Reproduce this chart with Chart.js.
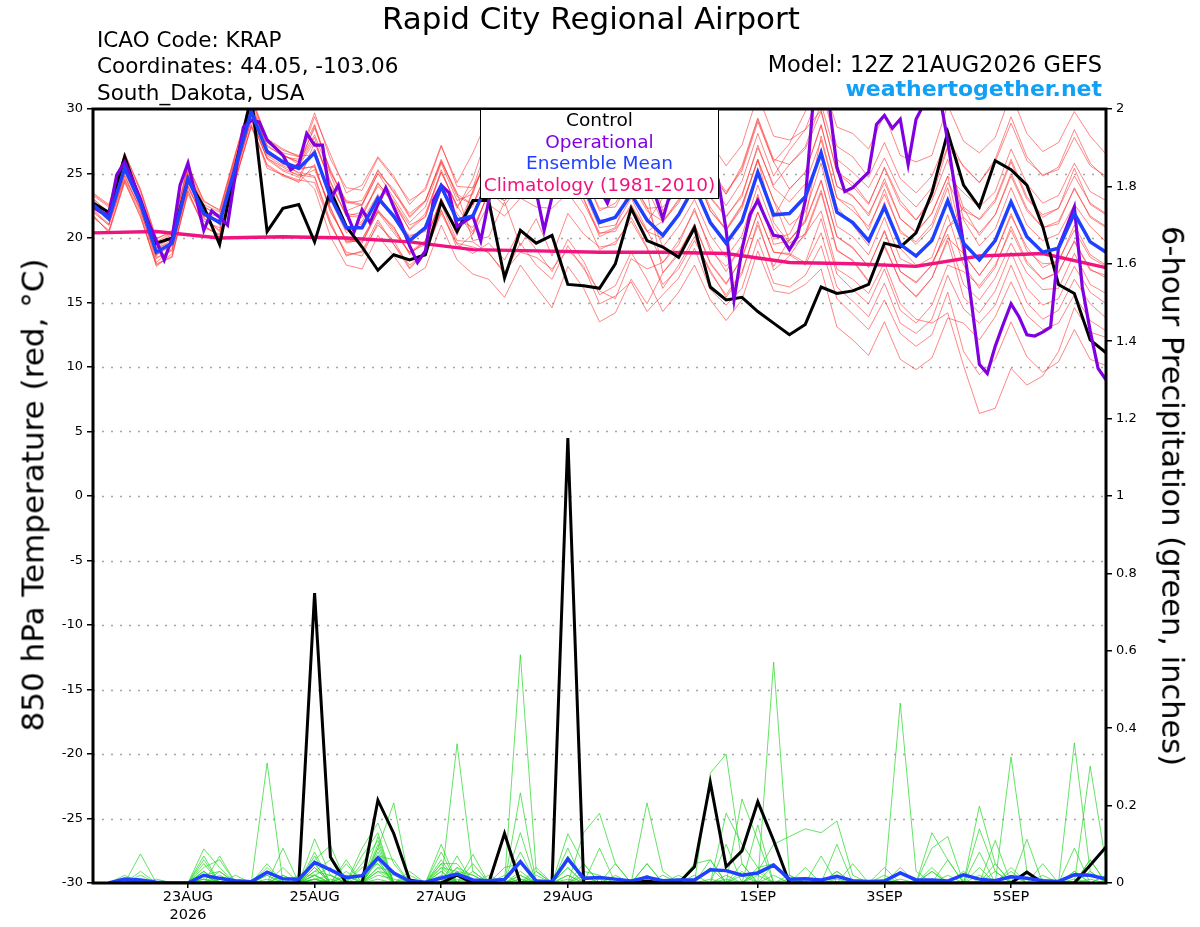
<!DOCTYPE html>
<html>
<head>
<meta charset="utf-8">
<script src="https://cdn.jsdelivr.net/npm/chart.js@4.4.1/dist/chart.umd.min.js"></script>
<style>
html,body{margin:0;padding:0;background:#fff;}
#wrap{position:relative;width:1200px;height:927px;overflow:hidden;font-family:"DejaVu Sans",sans-serif;background:#fff;}
#c{position:absolute;left:0;top:0;}
.t{position:absolute;white-space:nowrap;line-height:1;color:#000;}
#legend{position:absolute;left:480px;top:110px;width:239px;height:89px;box-sizing:border-box;background:#fff;border:1.5px solid #000;border-top:none;font-size:18.5px;line-height:1;}
#legend div{position:absolute;left:0;right:0;text-align:center;white-space:nowrap;}
</style>
</head>
<body>
<div id="wrap">
<canvas id="c" width="1200" height="927"></canvas>
<div class="t" style="left:0;width:1182px;text-align:center;top:3px;font-size:31px;">Rapid City Regional Airport</div>
<div class="t" style="left:97px;top:28.5px;font-size:21.5px;">ICAO Code: KRAP</div>
<div class="t" style="left:97px;top:55px;font-size:21.5px;">Coordinates: 44.05, -103.06</div>
<div class="t" style="left:97px;top:82px;font-size:21.5px;">South_Dakota, USA</div>
<div class="t" style="right:98px;top:52.5px;font-size:22.5px;text-align:right;">Model: 12Z 21AUG2026 GEFS</div>
<div class="t" style="right:98px;top:78px;font-size:22px;font-weight:bold;color:#12a0f5;text-align:right;">weathertogether.net</div>
<div class="t" style="left:33px;top:495px;font-size:31px;transform:translate(-50%,-50%) rotate(-90deg);">850 hPa Temperature (red, °C)</div>
<div class="t" style="left:1172px;top:496px;font-size:30.5px;transform:translate(-50%,-50%) rotate(90deg);">6-hour Precipitation (green, inches)</div>
<div id="legend">
  <div style="top:1.3px;color:#000;">Control</div>
  <div style="top:22.9px;color:#8000e0;">Operational</div>
  <div style="top:44.3px;color:#2040ff;">Ensemble Mean</div>
  <div style="top:66.3px;color:#f0147f;">Climatology (1981-2010)</div>
</div>
</div>
<script>
// ---- x axis (6-hour steps from 12Z 21AUG2026) ----
const X_TICK_STEPS = [6, 14, 22, 30, 42, 50, 58];
const X_TICK_LABELS = [['23AUG', '2026'], '25AUG', '27AUG', '29AUG', '1SEP', '3SEP', '5SEP'];

// ---- 850 hPa temperature (deg C), 6-hourly, steps 0..64 ----
const CONTROL_T = [22.7,22.0,26.3,22.8,19.6,20.0,24.5,22.4,19.5,25.5,31.0,20.5,22.3,22.6,19.7,23.7,20.9,19.3,17.5,18.7,
  18.3,18.7,22.8,20.5,22.9,22.9,16.9,20.6,19.6,20.2,16.4,16.3,16.1,18.0,22.3,19.8,19.3,18.5,20.8,16.2,
  15.2,15.4,14.3,13.4,12.5,13.3,16.2,15.7,15.9,16.4,19.6,19.3,20.4,23.5,28.2,24.1,22.4,26.0,25.3,24.1,
  20.9,16.4,15.7,12.1,11.1];
const MEAN_T = [22.6,21.5,25.4,22.7,18.9,19.6,24.6,21.9,21.2,25.5,29.8,26.7,25.9,25.4,26.6,23.2,20.8,20.8,23.1,21.7,
  19.8,20.8,24.0,21.4,21.7,24.5,23.8,25.0,24.6,24.2,25.4,24.0,21.2,21.6,23.4,21.4,20.2,21.8,24.0,21.2,
  19.6,21.3,25.1,21.8,21.9,23.2,26.6,22.0,21.2,19.8,22.4,19.5,18.6,19.8,22.9,19.6,18.3,19.8,22.8,20.1,
  18.9,19.2,21.9,19.7,18.9];
// operational run, 3-hourly, half-steps 0..128
const OPER_T = [22.4,22.0,21.8,24.9,25.9,24.5,23.0,21.2,19.8,18.3,20.0,24.1,25.8,23.2,20.6,22.1,21.6,21.0,25.0,28.6,
  29.1,29.0,27.6,27.0,26.4,25.3,25.7,28.1,27.2,27.2,23.0,24.1,22.0,20.5,22.2,21.2,22.6,23.9,22.4,21.0,
  19.4,18.1,19.0,22.9,24.1,23.5,20.9,21.3,21.7,19.8,22.9,24.5,25.5,24.8,26.0,25.2,23.6,20.6,23.2,24.6,
  25.8,24.9,26.3,25.4,23.8,22.7,24.3,25.6,26.2,25.0,24.4,23.4,21.5,23.6,24.8,26.5,25.9,27.1,26.0,24.5,
  20.6,15.2,19.1,21.8,22.9,21.5,20.2,20.1,19.1,20.1,22.9,30.6,31.5,30.5,25.5,23.6,23.9,24.5,25.1,28.8,
  29.5,28.5,29.2,25.7,29.2,30.4,31.0,31.0,27.5,23.5,19.5,15.0,10.2,9.5,11.6,13.3,14.9,13.9,12.5,12.4,
  12.7,13.1,19.3,20.8,22.4,16.2,12.8,9.9,9.0];
// climatology, daily, steps 0,4,...,64
const CLIM_T = [20.4,20.5,20.0,20.1,20.0,19.7,19.1,19.0,18.9,18.9,18.8,18.1,18.0,17.8,18.6,18.8,17.7];

// ensemble members, temperature
const T01 = [22.9,21.8,26.0,23.1,19.2,20.1,25.3,22.0,21.6,26.0,30.4,27.5,26.4,25.9,28.0,24.9,22.1,22.6,25.0,23.1,21.2,22.4,25.8,22.9,23.4,27.1,26.9,28.1,27.4,27.0,28.6,26.8,24.1,24.8,26.9,24.2,23.9,25.6,28.3,25.0,23.4,25.6,29.3,26.1,25.7,26.9,29.8,25.1,24.0,22.6,25.5,22.9,21.4,23.2,27.0,25.6,24.3,26.1,29.4,26.3,24.8,25.5,28.4,25.8,24.6];
const T02 = [22.0,21.0,24.6,22.3,18.1,19.2,23.9,21.6,20.5,24.8,29.2,26.1,25.2,24.7,25.3,22.4,19.6,19.9,22.0,20.4,18.9,19.5,22.6,19.8,19.7,18.8,17.4,18.9,18.5,17.6,19.1,17.8,14.9,15.5,16.6,14.3,15.6,16.9,19.2,16.0,14.8,16.1,19.9,16.5,16.2,17.1,19.4,15.3,14.1,12.9,15.2,12.6,11.6,12.5,15.8,11.2,9.4,10.6,13.5,10.8,9.6,10.4,12.9,10.6,10.1];
const T03 = [23.3,22.4,26.3,23.6,19.7,20.4,25.5,22.6,22.0,26.4,30.8,27.6,26.6,26.3,28.8,25.1,22.9,22.6,25.3,23.5,21.9,22.9,26.1,23.2,22.6,24.8,23.5,25.3,24.3,23.8,25.9,23.6,20.8,21.0,23.1,20.6,18.1,19.5,22.3,19.0,17.8,19.2,23.4,19.5,19.8,21.4,27.9,23.1,22.5,20.6,23.8,20.4,19.7,21.1,24.3,22.1,21.5,23.0,26.1,23.2,21.6,22.3,25.4,22.6,21.8];
const T04 = [21.8,20.4,24.3,21.7,17.8,18.8,23.4,21.0,20.1,24.6,28.7,25.4,24.9,24.5,24.3,21.0,18.9,18.6,21.2,19.5,17.9,18.8,22.1,19.6,19.3,18.9,17.2,19.6,17.9,16.8,19.4,17.6,15.9,15.3,18.4,17.6,18.1,19.8,22.1,19.3,17.4,19.5,23.2,19.9,20.3,22.6,26.9,22.4,21.0,19.4,22.8,19.2,17.9,18.1,20.3,16.4,15.2,16.9,19.6,17.3,16.0,16.1,18.8,16.4,15.7];
const T05 = [22.7,21.7,25.9,22.5,19.1,19.9,24.3,22.3,21.0,25.9,30.2,27.2,26.3,26.1,29.4,26.5,23.5,24.1,26.3,24.8,22.6,23.9,27.2,24.0,23.9,26.2,25.7,27.3,26.2,26.4,27.6,25.8,23.3,23.6,25.7,23.1,24.1,25.9,28.4,25.3,23.4,25.4,29.2,25.9,27.3,29.8,32.5,28.6,28.1,26.9,29.6,26.4,25.9,26.4,30.3,27.5,26.6,27.8,31.2,28.1,26.7,27.4,29.8,27.9,26.5];
const T06 = [22.5,21.3,25.2,22.9,18.7,19.4,24.8,21.7,21.4,25.2,29.5,26.4,25.6,25.1,24.8,21.3,18.6,19.0,21.4,19.5,17.6,18.9,22.2,19.2,20.3,23.7,22.5,24.3,23.4,23.0,24.6,22.7,20.3,20.8,24.3,22.1,21.3,23.0,25.1,22.4,20.6,22.5,26.1,21.2,19.6,20.3,22.1,17.6,16.8,15.7,18.1,14.9,13.7,13.4,14.2,10.1,6.4,6.8,9.9,8.6,9.3,11.2,14.6,12.7,12.3];
const T07 = [23.1,21.9,25.8,23.0,19.5,20.3,25.0,22.5,21.5,26.1,30.1,27.4,26.5,25.7,27.8,24.0,21.9,21.7,24.3,22.6,20.7,21.9,25.1,22.5,23.9,27.4,26.6,28.3,27.5,27.4,28.7,26.9,24.3,24.4,26.1,23.9,21.2,22.9,25.2,22.1,20.7,22.6,26.0,22.9,21.0,22.0,25.8,20.9,20.1,18.7,21.6,18.4,17.8,18.5,21.8,17.9,16.1,17.7,20.9,18.2,16.8,17.3,19.8,17.6,16.9];
const T08 = [22.2,21.1,24.8,22.1,18.5,19.0,24.0,21.3,20.8,25.0,29.1,26.2,25.5,24.8,26.9,23.0,20.4,21.3,23.4,21.6,20.2,20.5,23.7,21.9,20.3,22.6,21.7,23.1,22.4,22.3,23.5,21.8,19.1,19.7,21.3,19.2,16.4,17.6,19.8,17.5,15.4,17.2,21.3,17.5,18.6,20.4,23.7,19.1,18.2,16.6,19.3,16.7,15.4,16.9,20.0,18.8,17.1,18.8,21.7,19.3,17.7,18.3,20.6,18.5,17.8];
const T09 = [22.4,21.6,25.6,22.8,18.6,19.8,24.5,21.7,21.3,25.7,29.6,26.9,25.7,25.6,27.5,24.4,21.7,21.6,24.2,22.9,20.6,21.7,25.3,22.3,24.6,28.3,27.9,29.2,28.4,28.1,29.6,27.9,25.3,25.4,27.6,25.6,26.4,27.7,30.2,27.4,25.6,27.2,31.1,27.9,27.6,28.4,29.9,25.1,24.3,22.7,25.4,22.6,21.4,22.9,26.1,22.3,20.2,21.8,25.0,22.3,20.8,21.1,23.9,21.6,20.8];
const T10 = [22.5,21.4,25.1,22.6,19.0,19.5,24.4,22.0,21.1,25.3,29.9,26.5,25.8,25.0,23.8,20.1,17.9,17.6,20.2,18.6,16.9,17.7,21.0,18.3,17.2,16.8,15.4,17.9,16.2,14.6,17.8,16.1,13.5,14.2,16.8,14.9,17.3,18.9,21.0,18.1,16.5,18.4,22.0,18.9,18.7,17.9,20.4,16.2,15.1,13.9,16.5,13.4,12.6,13.7,17.1,14.5,13.4,14.8,17.9,15.0,13.7,14.4,16.8,14.9,13.8];
const T11 = [23.5,22.6,26.5,23.8,20.0,20.4,25.7,22.8,22.2,26.6,30.7,27.6,26.8,26.4,26.4,23.5,20.6,21.1,23.0,21.5,20.1,20.6,24.2,21.2,22.5,25.6,24.7,26.1,25.5,25.3,26.4,24.8,22.3,22.4,24.6,22.3,22.4,23.6,26.3,23.1,21.6,23.4,27.0,24.1,25.7,27.1,30.4,26.1,25.1,23.9,26.2,23.6,22.4,23.9,27.1,21.4,19.4,20.7,23.9,21.0,19.8,20.3,22.6,20.9,19.7];
const T12 = [21.6,20.6,24.5,21.9,17.9,18.6,23.6,20.8,20.3,24.4,28.8,25.6,24.8,24.4,27.4,24.3,21.7,22.0,24.0,22.8,21.0,21.6,25.1,22.5,20.5,23.6,22.9,23.9,23.5,23.4,24.2,23.0,20.4,20.5,22.6,20.5,20.0,21.9,24.3,21.1,19.4,21.1,25.3,21.6,23.8,25.1,28.8,24.0,23.3,21.7,24.6,21.5,20.4,21.9,24.8,23.5,22.4,23.6,26.9,24.2,22.7,23.3,25.8,23.6,22.9];
const T13 = [22.8,21.5,25.3,22.4,19.2,19.7,24.9,21.8,21.3,25.4,29.7,26.8,26.0,25.3,25.6,22.0,19.9,19.6,22.1,20.9,18.7,19.8,23.1,20.2,23.6,26.4,25.9,27.1,26.5,26.0,27.5,25.9,23.4,23.5,25.3,23.6,17.3,18.7,21.1,18.0,16.4,18.5,22.0,18.9,18.8,18.1,21.5,17.2,16.0,14.9,17.6,14.4,13.4,14.8,17.9,17.4,16.3,17.9,20.6,18.0,16.8,17.4,19.7,17.5,17.1];
const T14 = [23.0,22.0,25.9,23.3,19.4,20.0,25.2,22.4,21.8,26.2,30.3,27.1,26.4,25.9,28.5,25.3,22.7,22.9,25.2,23.6,21.6,22.8,26.0,23.5,19.8,20.1,22.8,19.4,21.5,18.6,21.9,20.3,19.3,19.5,21.6,19.3,16.1,17.9,20.1,17.3,15.6,17.4,21.0,17.8,19.9,21.2,24.4,20.1,19.3,17.7,20.6,17.4,16.6,17.9,20.8,22.4,21.4,22.8,25.9,23.0,21.8,22.3,24.8,22.7,21.9];
const T15 = [22.6,21.6,25.5,22.6,18.8,19.6,24.7,21.9,21.1,25.6,29.9,26.6,25.9,25.4,25.5,22.3,19.7,19.9,22.2,20.6,18.9,19.8,22.9,20.5,21.9,24.6,23.7,25.1,24.4,24.3,25.5,23.8,21.4,21.5,23.6,21.2,23.1,24.9,27.2,24.3,22.5,24.4,28.1,24.8,26.8,28.4,31.6,27.1,26.3,24.7,27.4,24.6,23.5,24.8,27.8,25.5,24.3,25.9,28.9,26.0,24.9,25.3,27.8,25.6,24.8];
const T16 = [22.1,21.0,24.9,22.2,18.4,19.1,24.1,21.5,20.6,25.1,29.3,26.2,25.3,24.9,24.7,21.1,18.7,18.9,21.0,19.8,17.7,18.9,21.9,19.5,18.8,19.6,18.3,20.7,19.1,17.4,19.9,18.2,15.6,16.3,18.9,16.8,14.3,15.8,17.9,15.2,13.6,15.2,19.0,15.9,15.7,16.4,17.6,13.1,12.1,10.9,13.5,10.6,9.8,10.7,13.8,13.4,12.1,13.9,16.6,14.0,12.9,13.4,15.6,13.6,12.8];
const T17 = [22.6,21.4,25.4,22.9,19.0,19.4,24.6,22.1,21.2,25.4,30.0,26.8,25.8,25.6,28.7,25.1,22.8,22.5,25.0,23.8,21.7,22.9,25.9,23.4,22.6,25.5,24.9,26.0,25.7,25.2,26.4,25.0,22.1,22.7,24.5,22.4,19.3,20.9,23.0,20.2,18.5,20.2,24.1,20.8,19.1,20.2,23.5,19.0,18.3,16.7,19.5,16.6,15.5,16.9,19.8,15.4,14.2,15.9,18.9,16.1,14.8,15.3,17.8,15.8,14.9];
const T18 = [23.4,22.5,26.6,23.7,19.9,20.6,25.6,22.9,22.1,26.5,31.0,27.7,26.9,26.3,29.7,26.1,23.9,23.7,26.2,24.6,22.9,23.7,27.1,24.3,26.6,29.4,28.9,30.1,29.5,29.1,30.5,28.9,26.3,26.5,28.5,26.4,22.1,23.9,26.0,23.2,21.7,23.2,27.2,23.9,22.8,24.2,27.6,23.1,22.1,20.9,23.4,20.6,19.5,20.8,23.9,18.7,17.1,18.8,21.9,19.0,18.0,18.1,21.0,18.7,17.9];
const T19 = [21.7,20.5,24.4,21.6,18.0,18.5,23.7,20.9,20.2,24.6,28.6,25.7,24.9,24.3,25.7,22.1,19.8,19.7,22.0,20.8,18.8,19.7,23.0,20.5,23.7,26.4,25.8,27.0,26.7,26.1,27.3,26.0,23.2,23.7,25.4,23.3,24.1,25.9,28.1,25.3,23.6,25.2,29.0,25.9,23.8,25.1,28.7,24.0,23.2,21.9,24.3,21.5,20.5,21.9,24.8,19.4,18.4,19.7,22.7,20.0,18.8,19.3,21.8,19.8,18.8];
const T20 = [22.5,21.6,25.2,22.7,18.8,19.7,24.5,21.8,21.2,25.6,29.8,26.6,26.0,25.3,26.7,23.1,20.9,20.7,23.2,21.5,19.9,20.9,23.8,21.5,20.8,23.4,22.9,24.1,23.5,23.3,24.3,23.1,20.1,20.7,22.4,20.5,21.3,22.7,25.2,22.1,20.6,22.3,26.1,22.9,19.8,21.3,24.5,20.1,19.2,17.8,20.5,17.4,16.5,17.9,20.9,21.6,20.4,21.8,24.8,22.1,20.8,21.3,23.8,21.7,20.9];
const RED_MEMBERS = [T01,T02,T03,T04,T05,T06,T07,T08,T09,T10,T11,T12,T13,T14,T15,T16,T17,T18,T19,T20];

// ---- 6-hour precipitation (inches), steps 1..64 ----
const CONTROL_P = [0,0,0,0,0,0,0,0, 0,0,0,0,0,0.749,0.067,0, 0,0.214,0.128,0.008,0,0,0.02,0, 0,0.128,0,0,0,1.15,0,0,
  0,0,0.005,0,0,0.042,0.26,0.042, 0.083,0.21,0.11,0,0,0,0,0, 0,0,0,0,0,0,0,0, 0,0,0.028,0,0,0,0.046,0.093];
const MEAN_P = [0,0.01,0.008,0.002,0,0,0.02,0.012, 0.006,0.003,0.028,0.011,0.01,0.053,0.034,0.014, 0.019,0.065,0.026,0.005,0.002,0.013,0.023,0.008,
  0.006,0.009,0.055,0.005,0.003,0.062,0.012,0.014, 0.01,0.005,0.015,0.006,0.008,0.008,0.034,0.032, 0.02,0.026,0.046,0.01,0.011,0.008,0.017,0.006,
  0.004,0.005,0.026,0.008,0.008,0.005,0.021,0.01, 0.006,0.016,0.012,0.006,0.004,0.021,0.02,0.01];
const P01 = [0,0,0.075,0,0,0,0.03,0, 0,0,0.31,0,0,0.05,0,0, 0,0.10,0,0,0,0.03,0,0, 0,0,0.03,0,0,0,0,0, 0,0,0,0,0,0,0.06,0, 0,0,0.05,0,0,0,0,0, 0,0,0,0,0,0,0,0.08, 0,0,0,0,0,0.03,0,0];
const P02 = [0,0,0,0,0,0,0.088,0.04, 0,0,0,0,0,0.114,0.02,0, 0,0.06,0,0,0,0,0.36,0.03, 0,0,0,0,0,0.04,0,0, 0,0,0,0,0,0,0.284,0.333, 0.05,0,0,0,0,0,0,0, 0,0,0.04,0,0,0,0,0, 0,0.03,0,0,0,0,0,0];
const P03 = [0,0.02,0,0,0,0,0.05,0, 0,0,0,0.09,0,0,0,0, 0.09,0.155,0.05,0,0,0,0,0, 0,0,0.59,0.03,0,0,0,0, 0,0,0.05,0,0,0,0,0, 0,0.15,0,0,0,0,0,0, 0,0,0,0,0.13,0.06,0,0, 0,0,0,0,0,0,0,0];
const P04 = [0,0,0,0,0,0,0.04,0.06, 0,0,0.04,0,0,0.08,0,0, 0,0.12,0,0,0,0.10,0,0, 0,0,0.233,0,0,0,0.13,0.18, 0.05,0,0,0,0,0,0,0.10, 0,0,0,0,0,0,0,0, 0,0,0.465,0.03,0,0,0,0, 0,0,0,0,0,0,0.06,0];
const P05 = [0,0,0.02,0,0,0,0.03,0, 0,0,0,0,0,0.06,0.097,0, 0,0.09,0.207,0,0,0.05,0,0, 0,0,0,0,0,0.127,0.05,0, 0,0,0,0,0,0,0,0, 0,0,0,0,0,0,0,0, 0,0,0,0,0,0,0,0.199, 0.05,0,0,0,0,0.362,0.03,0];
const P06 = [0,0,0,0,0,0,0.06,0, 0,0,0.05,0,0,0.04,0,0.06, 0,0.08,0,0,0,0.04,0,0.074, 0,0,0.13,0,0,0,0,0.09, 0,0,0.207,0.03,0,0,0,0, 0.217,0.11,0,0,0,0,0,0, 0,0,0,0,0,0,0,0, 0,0.326,0.03,0,0,0,0,0];
const P07 = [0,0,0,0,0,0,0,0.02, 0,0,0,0.04,0,0.07,0,0, 0.05,0.11,0,0,0,0,0.04,0, 0,0,0.08,0,0,0.07,0,0, 0,0,0,0,0,0.05,0.06,0, 0,0,0.571,0.02,0,0,0,0, 0,0,0,0,0,0,0,0.04, 0,0,0,0,0,0,0.302,0.05];
const P08 = [0,0,0,0,0,0,0.07,0, 0.02,0,0,0,0,0.03,0.06,0, 0.07,0.13,0,0.03,0,0.08,0,0.05, 0,0,0,0.04,0,0.09,0,0, 0,0,0,0,0,0,0,0.18, 0.10,0.04,0,0,0,0,0.10,0, 0,0,0,0,0.09,0.12,0,0, 0,0,0.113,0,0,0,0,0];
const P09 = [0,0,0,0,0,0,0,0.07, 0,0,0.03,0,0,0.02,0,0.05, 0,0.07,0.06,0,0,0,0.07,0, 0,0.04,0.05,0,0,0,0.03,0.02, 0,0,0,0,0,0,0.04,0, 0,0.03,0.10,0.12,0.14,0.13,0.16,0.02, 0,0,0,0,0,0,0,0, 0.11,0,0,0,0,0.09,0,0];
const P10 = [0,0.01,0,0,0,0,0.03,0, 0,0,0,0.02,0,0.05,0,0, 0.04,0.05,0,0,0,0.06,0,0.03, 0,0,0.02,0,0,0,0,0, 0.02,0,0.05,0,0,0,0,0, 0.03,0,0,0,0,0,0.03,0, 0,0.04,0,0,0.04,0,0,0.14, 0.03,0,0,0,0,0,0.06,0];
const P11 = [0,0,0.03,0,0,0,0.02,0.03, 0,0,0.02,0,0.02,0.02,0.04,0, 0,0.04,0.03,0,0,0.05,0.05,0, 0.02,0,0,0.03,0,0.02,0,0, 0,0,0,0,0,0.02,0,0, 0,0.04,0.05,0,0,0.07,0,0, 0,0,0,0,0,0.06,0,0, 0,0.04,0,0.05,0,0,0,0.02];
const P12 = [0,0,0,0.01,0,0,0.02,0, 0,0,0,0,0,0.04,0,0.03, 0,0.06,0,0.02,0,0.04,0.03,0, 0,0,0,0,0,0,0.05,0, 0,0,0,0,0.02,0,0,0, 0.05,0,0,0,0.04,0,0,0, 0,0,0.03,0,0.03,0,0,0, 0.05,0,0.03,0,0,0.03,0,0];
const P13 = [0,0,0,0,0,0,0.01,0, 0,0,0.02,0,0,0.01,0.02,0, 0,0.03,0.02,0,0,0,0.04,0.02, 0,0.02,0,0.02,0,0.04,0,0, 0.05,0,0.02,0,0,0,0,0, 0,0.03,0,0.02,0,0,0,0.05, 0,0.02,0,0,0,0,0.03,0, 0,0,0,0.02,0,0,0.03,0];
const P14 = [0,0,0.01,0,0,0,0,0.03, 0,0,0,0,0,0.02,0,0.02, 0,0.09,0,0.01,0,0.03,0,0, 0,0,0.02,0,0,0.02,0,0, 0,0,0,0,0,0,0,0.02, 0,0,0.02,0,0,0,0.03,0, 0,0,0,0,0.03,0,0,0, 0.03,0,0,0,0,0,0,0.02];
const P15 = [0,0.01,0,0,0,0,0.02,0, 0,0,0,0.02,0,0.03,0.02,0, 0.02,0.05,0,0,0,0,0.03,0.02, 0,0,0,0,0,0,0.02,0, 0,0,0,0.02,0,0,0,0, 0.02,0,0,0.01,0,0,0,0, 0,0.01,0,0,0,0.02,0,0, 0,0.02,0,0,0,0.01,0,0];
const P16 = [0,0,0,0,0,0,0.02,0, 0,0,0,0,0,0.02,0,0, 0,0.04,0,0,0,0.02,0,0, 0,0,0.01,0,0,0,0,0, 0,0,0.02,0,0,0,0,0, 0,0.02,0,0,0,0,0,0, 0,0,0,0,0,0,0,0.02, 0,0,0,0,0,0,0,0];
const P17 = [0,0,0,0,0,0,0,0.01, 0,0,0,0,0,0.01,0,0.02, 0,0.03,0,0,0,0,0.02,0, 0,0,0,0,0,0.01,0,0, 0,0,0,0,0.01,0,0,0, 0,0,0,0,0,0,0.01,0, 0,0,0,0,0.01,0,0,0, 0,0,0,0.01,0,0,0,0];
const P18 = [0,0,0,0,0,0,0.01,0, 0,0,0.01,0,0,0.01,0,0, 0,0.02,0.01,0,0,0.01,0,0, 0,0,0,0.01,0,0,0,0.01, 0,0,0,0,0,0,0.01,0, 0,0,0,0,0.01,0,0,0, 0,0,0.01,0,0,0,0,0, 0,0,0,0,0,0,0.01,0];
const P19 = [0,0,0,0,0,0,0,0, 0,0,0,0,0,0.01,0,0, 0,0.01,0,0,0,0,0,0, 0,0,0.01,0,0,0,0,0, 0,0,0,0,0,0,0,0.01, 0,0,0,0,0,0,0,0, 0,0,0,0,0,0,0,0, 0,0,0,0,0,0,0,0];
const P20 = [0,0,0,0,0,0,0.01,0, 0,0,0,0,0,0,0.01,0, 0,0,0,0,0,0,0.01,0, 0,0,0,0,0,0,0,0, 0,0,0,0,0,0,0,0, 0,0,0,0,0,0,0,0, 0,0,0,0,0,0,0,0, 0,0,0,0,0,0,0,0];
const GREEN_MEMBERS = [P01,P02,P03,P04,P05,P06,P07,P08,P09,P10,P11,P12,P13,P14,P15,P16,P17,P18,P19,P20];

// ---- styles ----
const COL = {red:'rgba(255,45,45,0.72)', green:'rgba(40,215,40,0.9)', control:'#000000', oper:'#8000e0', mean:'#2040ff', clim:'#f0147f'};

Chart.defaults.font.family = "'DejaVu Sans', sans-serif";
Chart.defaults.color = '#000';

const xy = (arr, fx) => arr.map((v, i) => ({x: fx(i), y: v}));
const base = {pointRadius: 0, pointHoverRadius: 0, tension: 0, fill: false, spanGaps: false};
const datasets = [];
datasets.push({...base, label:'Ensemble Mean', data: xy(MEAN_T, i => i), yAxisID:'y', borderColor: COL.mean, borderWidth: 3.5, order: 1});
datasets.push({...base, label:'Ensemble Mean precip', data: xy(MEAN_P, i => i + 1), yAxisID:'y1', borderColor: COL.mean, borderWidth: 3.5, order: 1});
datasets.push({...base, label:'Operational', data: xy(OPER_T, i => i / 2), yAxisID:'y', borderColor: COL.oper, borderWidth: 3.2, order: 2});
datasets.push({...base, label:'Control', data: xy(CONTROL_T, i => i), yAxisID:'y', borderColor: COL.control, borderWidth: 3, order: 3});
datasets.push({...base, label:'Control precip', data: xy(CONTROL_P, i => i + 1), yAxisID:'y1', borderColor: COL.control, borderWidth: 3, order: 3});
datasets.push({...base, label:'Climatology', data: xy(CLIM_T, i => i * 4), yAxisID:'y', borderColor: COL.clim, borderWidth: 3.4, order: 4});
GREEN_MEMBERS.forEach((m, k) => datasets.push({...base, label:'P member ' + (k + 1), data: xy(m, i => i + 1), yAxisID:'y1', borderColor: COL.green, borderWidth: 0.8, order: 5}));
RED_MEMBERS.forEach((m, k) => datasets.push({...base, label:'T member ' + (k + 1), data: xy(m, i => i), yAxisID:'y', borderColor: COL.red, borderWidth: 0.8, order: 6}));

const framePlugin = {
  id: 'frame',
  beforeDatasetsDraw(chart) {
    const {ctx, chartArea: a, scales: {y}} = chart;
    ctx.save();
    ctx.strokeStyle = '#a5a5a5';
    ctx.lineWidth = 1.3;
    ctx.setLineDash([2, 7]);
    y.ticks.forEach(t => {
      if (t.value > y.min && t.value < y.max) {
        const py = Math.round(y.getPixelForValue(t.value)) + 0.5;
        ctx.beginPath(); ctx.moveTo(a.left, py); ctx.lineTo(a.right, py); ctx.stroke();
      }
    });
    ctx.restore();
  },
  afterDatasetsDraw(chart) {
    const {ctx, chartArea: a} = chart;
    ctx.save();
    ctx.setLineDash([]);
    ctx.strokeStyle = '#000';
    ctx.lineWidth = 3;
    ctx.strokeRect(a.left, a.top, a.right - a.left, a.bottom - a.top);
    ctx.restore();
  }
};

new Chart(document.getElementById('c').getContext('2d'), {
  type: 'line',
  data: {datasets},
  options: {
    responsive: false,
    animation: false,
    events: [],
    layout: {padding: {top: 109, left: 0, right: 0, bottom: 0}},
    plugins: {legend: {display: false}, tooltip: {enabled: false}, title: {display: false}},
    scales: {
      x: {
        type: 'linear', position: 'bottom', min: 0, max: 64,
        afterFit: s => { s.height = 44; },
        afterBuildTicks: s => { s.ticks = X_TICK_STEPS.map(v => ({value: v})); },
        ticks: {autoSkip: false, maxRotation: 0, minRotation: 0, padding: 1, color: '#000', font: {size: 14.5},
          callback: v => { const k = X_TICK_STEPS.indexOf(v); return k >= 0 ? X_TICK_LABELS[k] : ''; }},
        grid: {drawOnChartArea: false, drawTicks: true, tickLength: 5, color: '#000', lineWidth: 1.5},
        border: {display: false}
      },
      y: {
        type: 'linear', position: 'left', min: -30, max: 30,
        afterFit: s => { s.width = 93; },
        ticks: {stepSize: 5, padding: 4, color: '#000', font: {size: 13}},
        grid: {drawOnChartArea: false, drawTicks: true, tickLength: 6, color: '#000', lineWidth: 1.5},
        border: {display: false}
      },
      y1: {
        type: 'linear', position: 'right', min: 0, max: 2,
        afterFit: s => { s.width = 94; },
        ticks: {stepSize: 0.2, padding: 4, color: '#000', font: {size: 13}, callback: v => String(Math.round(v * 10) / 10)},
        grid: {drawOnChartArea: false, drawTicks: true, tickLength: 6, color: '#000', lineWidth: 1.5},
        border: {display: false}
      }
    }
  },
  plugins: [framePlugin]
});
</script>
</body>
</html>
